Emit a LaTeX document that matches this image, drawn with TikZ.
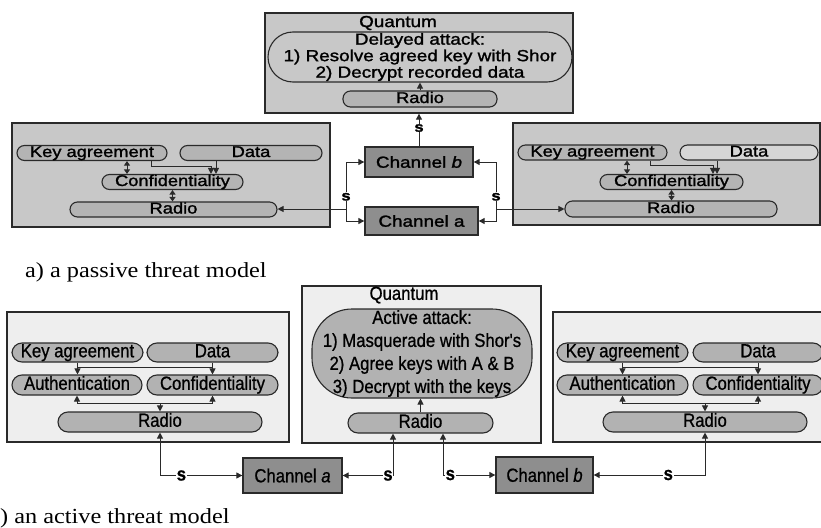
\documentclass[tikz,border=0pt]{standalone}
\usepackage{fontspec}
\setmainfont{Liberation Serif}
\newfontfamily\topfont[FakeStretch=1.18,FakeBold=1.5]{Liberation Sans}
\newfontfamily\botfont[FakeStretch=0.88,FakeBold=0.8]{Liberation Sans}
\newfontfamily\capfont[FakeStretch=1.13]{Liberation Serif}
\usetikzlibrary{arrows.meta,calc}
\definecolor{linec}{HTML}{2A2A2A}
\definecolor{tbfill}{HTML}{C8C8C8}
\definecolor{tpfill}{HTML}{B4B4B4}
\definecolor{tplight}{HTML}{D6D6D6}
\definecolor{bbfill}{HTML}{EEEEEE}
\definecolor{bpfill}{HTML}{B2B2B2}
\definecolor{chfill}{HTML}{8E8E8E}
\begin{document}
\begin{tikzpicture}[x=1pt,y=-1pt,
  topbox/.style={draw=linec, fill=tbfill, line width=1.3pt, inner sep=0pt},
  botbox/.style={draw=linec, fill=bbfill, line width=1.3pt, inner sep=0pt},
  toppill/.style={draw=linec, fill=tpfill, line width=1.1pt, rounded corners=7.5pt, inner sep=0pt,
    minimum height=15pt, font=\topfont\fontsize{15.5}{16}\selectfont, text height=11pt, text depth=3pt},
  botpill/.style={draw=linec, fill=bpfill, line width=1.1pt, rounded corners=10pt, inner sep=0pt,
    minimum height=20pt, font=\botfont\fontsize{19}{20}\selectfont, text height=13.5pt, text depth=4pt},
  topell/.style={draw=linec, fill=tbfill, line width=1.1pt, rounded corners=25pt, inner sep=0pt,
    align=center, font=\topfont\fontsize{16}{16.5}\selectfont},
  botell/.style={draw=linec, fill=bpfill, line width=1.1pt, rounded corners=40pt, inner sep=0pt,
    align=center, font=\botfont\fontsize{19}{23}\selectfont},
  topchan/.style={draw=linec, fill=chfill, line width=1.3pt, inner sep=0pt,
    font=\topfont\fontsize{16}{16}\selectfont},
  botchan/.style={draw=linec, fill=chfill, line width=1.3pt, inner sep=0pt,
    font=\botfont\fontsize{19}{19}\selectfont},
  toptxt/.style={inner sep=0pt, font=\topfont\fontsize{16}{16}\selectfont},
  bottxt/.style={inner sep=0pt, font=\botfont\fontsize{19}{19}\selectfont},
  tslab/.style={fill=white, inner sep=0.6pt, font=\topfont\bfseries\fontsize{14}{14}\selectfont},
  bslab/.style={fill=white, inner sep=0.6pt, font=\botfont\bfseries\fontsize{19}{19}\selectfont},
  captxt/.style={inner sep=0pt, anchor=base west, font=\capfont\fontsize{21.5}{22}\selectfont},
  arr/.style={draw=linec, line width=1pt, -{Triangle[length=6pt,width=6pt]}},
  arrboth/.style={draw=linec, line width=1pt, {Triangle[length=6pt,width=6pt]}-{Triangle[length=6pt,width=6pt]}},
  dbl/.style={draw=linec, line width=1pt, {Triangle[length=4.5pt,width=6pt]}-{Triangle[length=4.5pt,width=6pt]}},
  plain/.style={draw=linec, line width=1pt}
]
\useasboundingbox (0,0) rectangle (821,527);

% ---------------- a) passive threat model ----------------
% top middle: Quantum
\node[topbox, minimum width=308pt, minimum height=100pt] (tq) at (419,63) {};
\node[toptxt] (tqlabel) at (398,23) {Quantum};
\node[topell, minimum width=304pt, minimum height=50pt] (tell) at (420,57)
  {Delayed attack:\\1) Resolve agreed key with Shor\\2) Decrypt recorded data};
\node[toppill, minimum width=154pt, minimum height=16pt] (tqr) at (420,99) {Radio};
\draw[arr] (tqr.north) -- (tqr.north |- tell.south);

% top left
\node[topbox, minimum width=318pt, minimum height=104pt] (tl) at (171,175) {};
\node[toppill, minimum width=150pt] (tlk) at (92,153) {Key agreement};
\node[toppill, minimum width=142pt] (tld) at (251,153) {Data};
\node[toppill, minimum width=141pt] (tlc) at (172.5,182) {Confidentiality};
\node[toppill, minimum width=207pt] (tlr) at (173.5,209.5) {Radio};
\coordinate (tlk1) at ([xshift=35pt]tlk.south);
\coordinate (tlk2) at ([xshift=59pt]tlk.south);
\coordinate (tld1) at ([xshift=-35pt]tld.south);
\coordinate (tlc1) at ([xshift=38.5pt]tlc.north);
\draw[dbl] (tlk1) -- (tlk1 |- tlc.north);
\draw[dbl] (tlc.south) -- (tlc.south |- tlr.north);
\draw[arr] (tlk2) -- ++(0,5) -| (tlc1);
\draw[arr] (tld1) -- (tld1 |- tlc.north);

% top right
\node[topbox, minimum width=307pt, minimum height=102pt] (tr) at (666.5,174) {};
\node[toppill, minimum width=149pt] (trk) at (592.5,152.5) {Key agreement};
\node[toppill, minimum width=138pt, fill=tplight] (trd) at (749,152.5) {Data};
\node[toppill, minimum width=143pt] (trc) at (671.5,182) {Confidentiality};
\node[toppill, minimum width=212pt, minimum height=16pt] (trr) at (671,209) {Radio};
\coordinate (trk1) at ([xshift=34.5pt]trk.south);
\coordinate (trk2) at ([xshift=57.5pt]trk.south);
\coordinate (trd1) at ([xshift=-32pt]trd.south);
\coordinate (trc1) at ([xshift=41.5pt]trc.north);
\draw[dbl] (trk1) -- (trk1 |- trc.north);
\draw[dbl] (trc.south) -- (trc.south |- trr.north);
\draw[arr] (trk2) -- ++(0,5) -| (trc1);
\draw[arr] (trd1) -- (trd1 |- trc.north);

% channels
\node[topchan, minimum width=108pt, minimum height=30pt] (chb) at (419,162) {Channel \textit{b}};
\node[topchan, minimum width=113pt, minimum height=28pt] (cha) at (421.5,221) {Channel a};
\draw[arr] (chb.north) -- node[tslab, pos=0.56] (s0) {s} (chb.north |- tq.south);

\coordinate (lj) at (346,209);
\coordinate (rj) at (496,209);
\draw[arr] (lj) -- (lj -| tlr.east);
\draw[arr] (lj) |- node[tslab, pos=0.13] (s1) {s} (chb.west);
\draw[arr] (lj) |- (cha.west);
\draw[arr] (rj) -- (rj -| trr.west);
\draw[arr] (rj) |- node[tslab, pos=0.13] (s2) {s} (chb.east);
\draw[arr] (rj) |- (cha.east);

\node[captxt] (capa) at (25,277) {a) a passive threat model};

% ---------------- b) active threat model ----------------
% bottom left
\node[botbox, minimum width=282pt, minimum height=130pt] (bl) at (148,377) {};
\node[botpill, minimum width=131pt, minimum height=19pt] (blk) at (77.5,352.5) {Key agreement};
\node[botpill, minimum width=131pt, minimum height=19pt] (bld) at (212.5,352.5) {Data};
\node[botpill, minimum width=130pt] (bla) at (77,385) {Authentication};
\node[botpill, minimum width=131pt] (blc) at (212.5,385) {Confidentiality};
\node[botpill, minimum width=204pt] (blr) at (160,422) {Radio};
\draw[arr] (blk.south) -- (blk.south |- bla.north);
\draw[arr] (bld.south) -- (bld.south |- blc.north);
\draw[plain] ([yshift=-5pt]blk.south) -- ([yshift=-5pt]bld.south);
\coordinate (bll) at ([yshift=-8pt]bla.south);
\draw[arr] (bll) -- (bla.south);
\draw[arr] (bll -| blc.south) -- (blc.south);
\draw[plain] (bll) -- (bll -| blc.south);
\draw[arr] (bll -| blr.north) -- (blr.north);

% bottom middle
\node[botbox, minimum width=239pt, minimum height=157pt] (bm) at (421.5,364.5) {};
\node[bottxt] (bmq) at (404,295) {Quantum};
\node[botell, minimum width=220pt, minimum height=89pt] (bme) at (422,353.5)
  {Active attack:\\1) Masquerade with Shor's\\2) Agree keys with A \& B\\3) Decrypt with the keys};
\node[botpill, minimum width=145pt] (bmr) at (420.5,423) {Radio};
\draw[arr] (bmr.north) -- (bmr.north |- bme.south);

% bottom right
\node[botbox, minimum width=271pt, minimum height=130pt] (br) at (688.5,377) {};
\node[botpill, minimum width=131pt, minimum height=19pt] (brk) at (622.5,352.5) {Key agreement};
\node[botpill, minimum width=130pt, minimum height=19pt] (brd) at (758,352.5) {Data};
\node[botpill, minimum width=131pt] (bra) at (622.5,385) {Authentication};
\node[botpill, minimum width=130pt] (brc) at (758,385) {Confidentiality};
\node[botpill, minimum width=204pt] (brr) at (705,422) {Radio};
\draw[arr] (brk.south) -- (brk.south |- bra.north);
\draw[arr] (brd.south) -- (brd.south |- brc.north);
\draw[plain] ([yshift=-5pt]brk.south) -- ([yshift=-5pt]brd.south);
\coordinate (brl) at ([yshift=-8pt]bra.south);
\draw[arr] (brl) -- (bra.south);
\draw[arr] (brl -| brc.south) -- (brc.south);
\draw[plain] (brl) -- (brl -| brc.south);
\draw[arr] (brl -| brr.north) -- (brr.north);

% bottom channels
\node[botchan, minimum width=99pt, minimum height=35pt] (cba) at (292.5,475.5) {Channel \textit{a}};
\node[botchan, minimum width=97pt, minimum height=36pt] (cbb) at (544.5,475) {Channel \textit{b}};
\draw[arrboth] (blr.south) |- node[bslab, pos=0.63] (s3) {s} (cba.west);
\draw[arrboth] ([xshift=-27.5pt]bmr.south) |- node[bslab, pos=0.55] (s4) {s} (cba.east);
\draw[arrboth] ([xshift=22.5pt]bmr.south) |- node[bslab, pos=0.57] (s5) {s} (cbb.west);
\draw[arrboth] (brr.south) |- node[bslab, pos=0.665] (s6) {s} (cbb.east);

\node[captxt] (capb) at (0,523) {) an active threat model};
\end{tikzpicture}
\end{document}
